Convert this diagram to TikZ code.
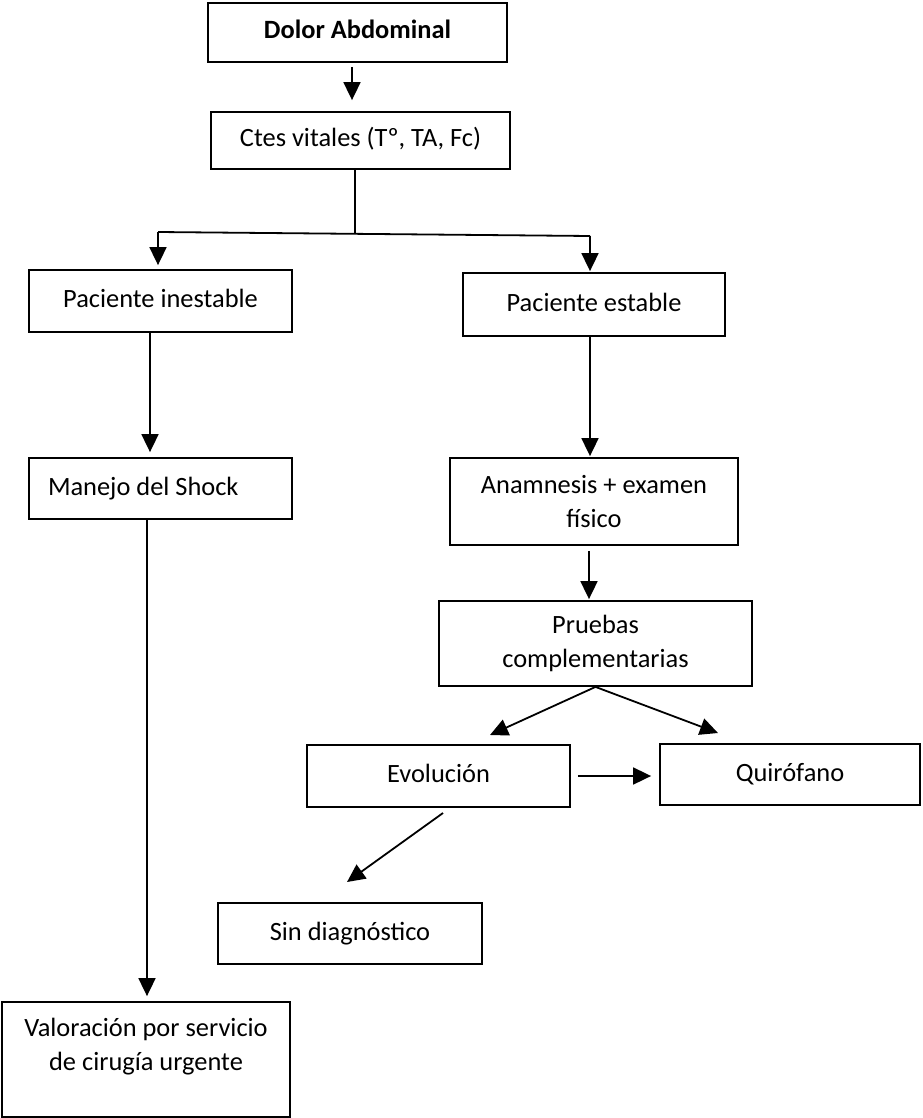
\documentclass[tikz,border=0pt]{standalone}
\usepackage{fontspec}
\setmainfont{Carlito}
\usetikzlibrary{arrows.meta}
\begin{document}
\begin{tikzpicture}[x=1pt,y=-1pt,
  font=\fontsize{26.4}{34}\selectfont,
  box/.style={draw, line width=1.8pt, align=center, inner sep=0pt},
  oneline/.style={text height=19pt, text depth=6pt},
  link/.style={line width=1.8pt},
  arr/.style={link, -{Triangle[length=18pt,width=17pt]}}]
\useasboundingbox (0,0) rectangle (922,1118);

% boxes
\node[box, oneline, minimum width=299pt, minimum height=59pt] (dolor) at (357.5,32.5) {\bfseries Dolor Abdominal};
\node[box, oneline, minimum width=299pt, minimum height=57pt] (ctes) at (360.5,140.5) {Ctes vitales (Tº, TA, Fc)};
\node[box, oneline, minimum width=263pt, minimum height=62pt] (inest) at (160.5,301) {Paciente inestable};
\node[box, oneline, minimum width=263pt, minimum height=61pt, inner xsep=19pt] (shock) at (160.5,488.5) {\makebox[225pt][l]{Manejo del Shock}};
\node[box, minimum width=288pt, minimum height=115pt, text depth=30pt] (valor) at (146,1059.5) {Valoración por servicio\\de cirugía urgente};
\node[box, oneline, minimum width=262pt, minimum height=63pt] (estable) at (594,304.5) {Paciente estable};
\node[box, minimum width=288pt, minimum height=87pt] (anam) at (594,501.5) {Anamnesis + examen\\físico};
\node[box, minimum width=313pt, minimum height=85pt] (pruebas) at (595.5,643.5) {Pruebas\\complementarias};
\node[box, oneline, minimum width=263pt, minimum height=62pt] (evol) at (438.5,776) {Evolución};
\node[box, oneline, minimum width=260pt, minimum height=61pt] (quir) at (790,774.5) {Quirófano};
\node[box, oneline, minimum width=264pt, minimum height=61pt] (sindiag) at (350,933.5) {Sin diagnóstico};

% branch points and free ends
\coordinate (split) at (355,234);
\coordinate (bl) at (158,232);
\coordinate (br) at (590,236);
\coordinate (t1) at (490,735);
\coordinate (t2) at (718,733);
\coordinate (s1) at (443,813);
\coordinate (s2) at (347,882);

% connectors
\draw[arr, shorten <=4pt, shorten >=11pt] ([xshift=-5.5pt]dolor.south) -- ([xshift=-5.5pt]dolor.south |- ctes.north);
\draw[link] ([xshift=-5.5pt]ctes.south) -- (split);
\draw[link] (bl) -- (br);
\draw[arr, shorten >=4pt] (bl) -- (bl |- inest.north);
\draw[arr, shorten >=1pt] (br) -- (br |- estable.north);
\draw[arr, shorten >=5pt] ([xshift=-10.5pt]inest.south) -- ([xshift=-10.5pt]inest.south |- shock.north);
\draw[arr, shorten >=5pt] ([xshift=-13.5pt]shock.south) -- ([xshift=-13.5pt]shock.south |- valor.north);
\draw[arr, shorten >=1pt] ([xshift=-4pt]estable.south) -- ([xshift=-4pt]estable.south |- anam.north);
\draw[arr, shorten <=5pt, shorten >=1pt] ([xshift=-5pt]anam.south) -- ([xshift=-5pt]anam.south |- pruebas.north);
\draw[arr] (pruebas.south) -- (t1);
\draw[arr] (pruebas.south) -- (t2);
\draw[arr, shorten <=7pt, shorten >=8pt] (evol.east) -- (evol.east -| quir.west);
\draw[arr] (s1) -- (s2);
\end{tikzpicture}
\end{document}
